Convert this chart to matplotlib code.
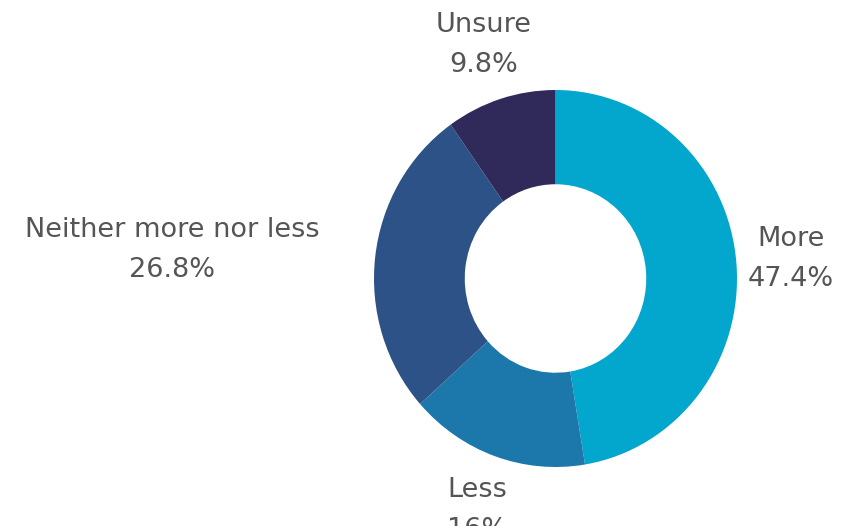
import matplotlib
matplotlib.use("Agg")
import numpy as np
import matplotlib.pyplot as plt

labels = ["More", "Less", "Neither more nor less", "Unsure"]
values = [47.4, 16, 26.8, 9.8]
value_text = ["47.4%", "16%", "26.8%", "9.8%"]
colors = ["#03A6CD", "#1C78AB", "#2C5287", "#302A5B"]

plt.rcParams["font.family"] = ["DejaVu Sans"]

fig = plt.figure(figsize=(8.58, 5.26), dpi=100)
ax = fig.add_axes([0, 0, 1, 1])

wedges, _ = ax.pie(values, colors=colors, startangle=90, counterclock=False,
                   radius=1.0, wedgeprops=dict(width=0.5, linewidth=0))

# one data unit = outer radius; slightly taller than wide on the canvas
ax.set_aspect("auto")
ax.set_xlim(-555.5 / 181.5, (858 - 555.5) / 181.5)
ax.set_ylim(-(526 - 278.5) / 188.5, 278.5 / 188.5)
ax.axis("off")

for w, name, txt in zip(wedges, labels, value_text):
    mid = np.deg2rad((w.theta1 + w.theta2) / 2)
    x, y = 1.3 * np.cos(mid), 1.3 * np.sin(mid)
    ha = "center"
    if name == "Neither more nor less":
        # long label would run into the ring, push it clear on the left
        x, y, ha = -1.3, 0.15, "right"
    ax.text(x, y, name + "\n" + txt, ha=ha, va="center", fontsize=19.5,
            color="#555555", linespacing=1.7, multialignment="center")

fig.savefig("out.png", dpi=100)
